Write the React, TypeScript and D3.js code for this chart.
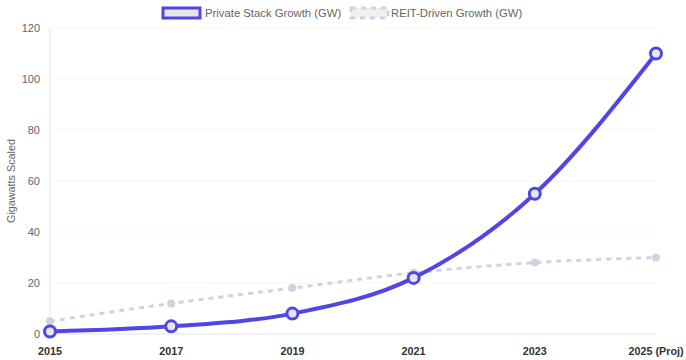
import React from "react";
import * as d3 from "d3";

const years = ["2015", "2017", "2019", "2021", "2023", "2025 (Proj)"];
const privateStack = [1, 3, 8, 22, 55, 110];
const reitDriven = [5, 12, 18, 24, 28, 30];
const yTicks = [0, 20, 40, 60, 80, 100, 120];

const W = 686, H = 360;
const M = { left: 50, right: 30, top: 28, bottom: 26 };
const FONT = "'Liberation Sans', Arial, Helvetica, sans-serif";

export default function App() {
  const x = d3.scalePoint<string>().domain(years).range([M.left, W - M.right]);
  const y = d3.scaleLinear().domain([0, 120]).range([H - M.bottom, M.top]);
  const line = d3
    .line<number>()
    .x((_, i) => x(years[i]) as number)
    .y((d) => y(d))
    .curve(d3.curveMonotoneX);

  return (
    <svg width={W} height={H} style={{ position: "absolute", left: 0, top: 0, fontFamily: FONT }}>
      {/* grid */}
      {yTicks.map((t) => (
        <line key={t} x1={M.left} x2={W - M.right} y1={y(t)} y2={y(t)} stroke={t === 0 ? "#e5e5e5" : "#f5f5f5"} strokeWidth={1} />
      ))}
      <line x1={M.left} x2={M.left} y1={M.top} y2={y(0)} stroke="#e5e5e5" />
      {/* y ticks */}
      {yTicks.map((t) => (
        <text key={t} x={M.left - 10} y={y(t)} dy="0.35em" textAnchor="end" fontSize={11} fill="#666">
          {t}
        </text>
      ))}
      <text transform={`translate(11,${(M.top + y(0)) / 2}) rotate(-90)`} textAnchor="middle" fontSize={10.8} fill="#666" dy="0.35em">
        Gigawatts Scaled
      </text>
      {/* x ticks */}
      {years.map((yr) => (
        <text key={yr} x={x(yr)} y={351} dy="0.35em" textAnchor="middle" fontSize={10.8} fontWeight="bold" fill="#333">
          {yr}
        </text>
      ))}
      {/* REIT line */}
      <path d={line(reitDriven) || ""} fill="none" stroke="#cbd5e1" strokeWidth={3} strokeDasharray="5,5" />
      {reitDriven.map((v, i) => (
        <circle key={i} cx={x(years[i])} cy={y(v)} r={4} fill="#cbd5e1" />
      ))}
      {/* Private line */}
      <path d={line(privateStack) || ""} fill="none" stroke="#4f46e5" strokeWidth={4} />
      {privateStack.map((v, i) => (
        <circle key={i} cx={x(years[i])} cy={y(v)} r={5.5} fill="#e5e7eb" stroke="#4f46e5" strokeWidth={3} />
      ))}
      {/* legend */}
      <rect x={163} y={8} width={37} height={10} fill="#e5e7eb" stroke="#4f46e5" strokeWidth={3} />
      <text x={205} y={13} dy="0.35em" fontSize={11.3} fill="#666">
        Private Stack Growth (GW)
      </text>
      <rect x={351} y={8} width={37} height={10} fill="#eef0f3" stroke="#cbd5e1" strokeWidth={3} strokeDasharray="5,5" />
      <text x={391} y={13} dy="0.35em" fontSize={11.3} fill="#666">
        REIT-Driven Growth (GW)
      </text>
    </svg>
  );
}
